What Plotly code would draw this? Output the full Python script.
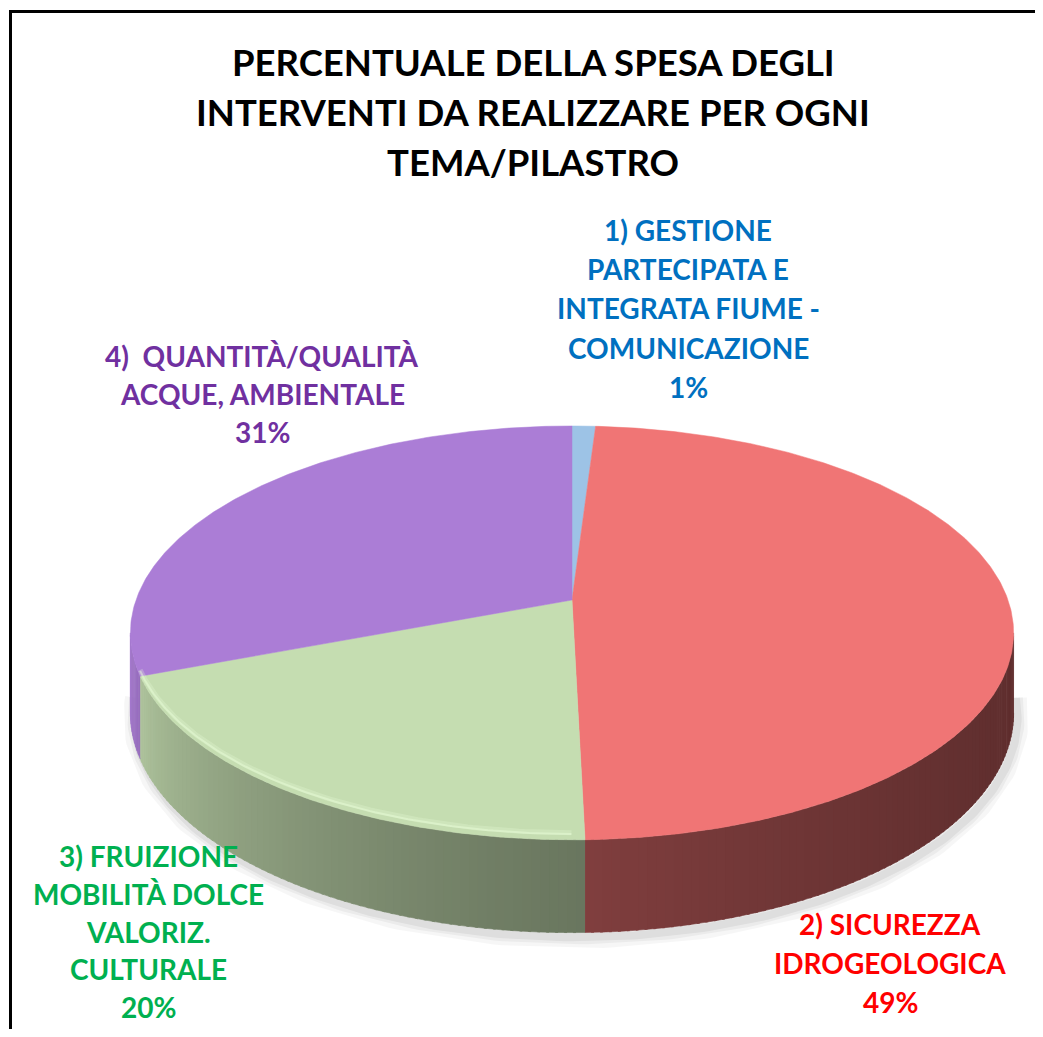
import numpy as np
import plotly.graph_objects as go

# ---------------- data ----------------
categories = [
    "1) GESTIONE<br>PARTECIPATA E<br>INTEGRATA FIUME -<br>COMUNICAZIONE",
    "2) SICUREZZA<br>IDROGEOLOGICA",
    "3) FRUIZIONE<br>MOBILITÀ DOLCE<br>VALORIZ.<br>CULTURALE",
    "4)  QUANTITÀ/QUALITÀ<br>ACQUE, AMBIENTALE",
]
values = [1.0, 48.6, 19.6, 30.8]
top_colors = ["#9DC3E6", "#F07575", "#C5DDB1", "#AB7DD6"]
text_colors = ["#0070C0", "#FF0000", "#00B050", "#7030A0"]
title_text = "PERCENTUALE DELLA SPESA DEGLI<br>INTERVENTI DA REALIZZARE PER OGNI<br>TEMA/PILASTRO"

# ---------------- geometry (3D pie projection) ----------------
WIN_W, WIN_H = 1043, 1037
OFF = 8                                # default page body margin
W, H = WIN_W - 2 * OFF, WIN_H - 2 * OFF
CX, CY = 572, 600          # pie centre on screen
R, RY = 436, 201.7         # horizontal radius / vertical radius
P = 0.159                  # perspective factor
DEPTH = 78                 # thickness of the pie
FONT = "Lato, Liberation Sans, sans-serif"

# label block: centre x, first line y, line spacing
label_pos = [(688, 230, 39.2), (890, 924, 39), (148, 856, 37.8), (262, 356, 38)]


def proj(theta_deg, drop=0.0):
    th = np.radians(theta_deg)
    f = 1.0 / (1.0 + P * np.cos(th))
    x = CX + R * np.sin(th) * f
    y = CY - RY * np.cos(th) * f + drop * f
    return x, y


def hex2rgb(h):
    h = h.lstrip("#")
    return tuple(int(h[i:i + 2], 16) for i in (0, 2, 4))


def shade(h, k):
    r, g, b = hex2rgb(h)
    return "rgb(%d,%d,%d)" % (min(255, r * k), min(255, g * k), min(255, b * k))


total = sum(values)
angles = np.cumsum([0] + [v / total * 360 for v in values])
theta_r = np.degrees(np.arccos(-P))
theta_l = 360 - theta_r

fig = go.Figure()

# soft shadow under the pie
for w, op in [(22, 0.035), (14, 0.045), (8, 0.055)]:
    th = np.linspace(theta_r - 5, theta_l + 5, 200)
    x, y = proj(th, DEPTH + 4)
    fig.add_trace(go.Scatter(x=x + 4, y=y, mode="lines",
                             line=dict(color="rgba(0,0,0,%g)" % op, width=w),
                             hoverinfo="skip"))

# side walls with gradient
for i, v in enumerate(values):
    a, b = angles[i], angles[i + 1]
    lo, hi = max(a, theta_r), min(b, theta_l)
    if hi <= lo:
        continue
    n = max(1, int(np.ceil((hi - lo) / 1.0)))
    edges = np.linspace(lo, hi, n + 1)
    for j in range(n):
        t0, t1 = edges[j], min(edges[j + 1] + 0.3, hi)
        th = np.linspace(t0, t1, 4)
        xt, yt = proj(th)
        xb, yb = proj(th[::-1], DEPTH)
        tm = ((t0 + t1) / 2 - theta_r) / (theta_l - theta_r)
        k = 0.40 + 0.56 * tm ** 2
        col = shade(top_colors[i], k)
        fig.add_trace(go.Scatter(
            x=np.concatenate([xt, xb]), y=np.concatenate([yt, yb]),
            fill="toself", fillcolor=col, mode="lines",
            line=dict(color=col, width=0.6), hoverinfo="skip"))

# top faces
for i, v in enumerate(values):
    a, b = angles[i], angles[i + 1]
    th = np.linspace(a, b, max(3, int((b - a) * 2)))
    x, y = proj(th)
    fig.add_trace(go.Scatter(
        x=np.concatenate([[CX], x, [CX]]), y=np.concatenate([[CY], y, [CY]]),
        fill="toself", fillcolor=top_colors[i], mode="lines",
        line=dict(color=top_colors[i], width=0.5), hoverinfo="skip"))

# soft light rim on the lit front edge (green slice)
a, b = angles[2], angles[3]
th = np.linspace(a + 1.5, b, 120)
for dr, w, op in [(-6, 5, 0.25), (-5, 2, 0.45)]:
    x, y = proj(th, dr)
    fig.add_trace(go.Scatter(x=x, y=y, mode="lines",
                             line=dict(color="rgba(235,255,220,%g)" % op, width=w),
                             hoverinfo="skip"))

# labels, one annotation per text line
for i, v in enumerate(values):
    pct = int(v / total * 100 + 0.5)
    lx, ly, dy = label_pos[i]
    lines = categories[i].split("<br>") + ["%d%%" % pct]
    for k, line in enumerate(lines):
        fig.add_annotation(x=lx, y=ly + k * dy, xref="x", yref="y",
                           text="<b>%s</b>" % line,
                           showarrow=False, align="center",
                           xanchor="center", yanchor="middle",
                           font=dict(family=FONT, size=28, color=text_colors[i]))

for k, line in enumerate(title_text.split("<br>")):
    fig.add_annotation(x=533, y=62 + k * 50, xref="x", yref="y",
                       text="<b>%s</b>" % line, showarrow=False,
                       align="center", xanchor="center", yanchor="middle",
                       font=dict(family=FONT, size=36.5, color="black"))

# chart border (left and top edges are inside the window)
fig.add_shape(type="line", xref="x", yref="y", x0=10.5, y0=10, x1=10.5, y1=1100,
              line=dict(color="black", width=3))
fig.add_shape(type="line", xref="x", yref="y", x0=9, y0=11.5, x1=1100, y1=11.5,
              line=dict(color="black", width=3))

fig.update_layout(
    width=W, height=H, margin=dict(l=0, r=0, t=0, b=0),
    paper_bgcolor="white", plot_bgcolor="white", showlegend=False,
    xaxis=dict(range=[OFF, OFF + W], visible=False, fixedrange=True),
    yaxis=dict(range=[OFF + H, OFF], visible=False, fixedrange=True),
)

fig.write_html("out.html")
